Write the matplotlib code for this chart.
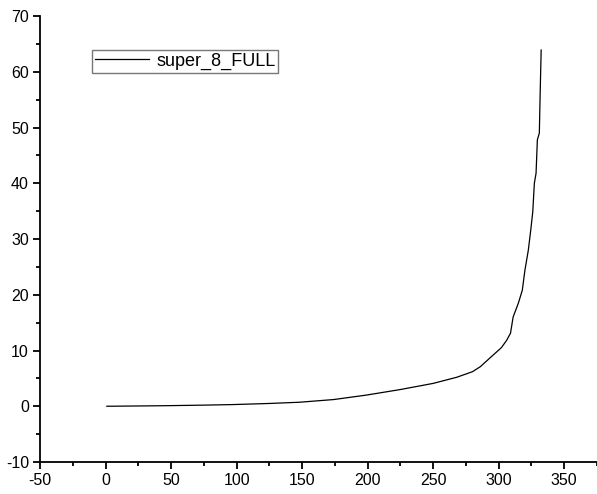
import matplotlib
matplotlib.use("Agg")
import matplotlib.pyplot as plt
from matplotlib.ticker import MultipleLocator

plt.rcParams['font.family'] = ['Liberation Sans', 'DejaVu Sans']
plt.rcParams['axes.unicode_minus'] = False

x_vals = [1, 25, 46, 75, 97, 125, 148, 174, 199, 225, 250, 268, 280, 286, 293,
          302, 306, 309, 311, 315, 318, 320, 322.6, 324.5, 326, 327.2, 328.5,
          329.5, 331, 331.6, 332.4]
y_vals = [0.0, 0.05, 0.1, 0.2, 0.3, 0.5, 0.72, 1.2, 2.0, 3.0, 4.1, 5.2, 6.2,
          7.1, 8.6, 10.5, 11.8, 13.1, 16.0, 18.5, 20.8, 24.4, 28.0, 31.7, 34.9,
          40.0, 41.8, 47.8, 49.0, 55.8, 63.9]
series_name = "super_8_FULL"

fig = plt.figure(figsize=(5.97, 4.94), dpi=100)
ax = fig.add_axes([40/597, 1-462/494, 1-40/597, (462-16)/494])
ax.plot(x_vals, y_vals, color='black', lw=0.9, label=series_name)

ax.set_xlim(-50, 375)
ax.set_ylim(-10, 70)
ax.xaxis.set_major_locator(MultipleLocator(50))
ax.xaxis.set_minor_locator(MultipleLocator(25))
ax.yaxis.set_major_locator(MultipleLocator(10))
ax.yaxis.set_minor_locator(MultipleLocator(5))
for s in ['top', 'right']:
    ax.spines[s].set_visible(False)
for s in ['left', 'bottom']:
    ax.spines[s].set_linewidth(1.3)
ax.tick_params(which='major', direction='out', length=5, width=1.3, labelsize=11.5, pad=3)
ax.tick_params(which='minor', direction='out', length=3, width=1.3)

leg = ax.legend(loc='upper left', bbox_to_anchor=((92-40)/557, (462-50)/446),
                frameon=True, fancybox=False, shadow=False, fontsize=13,
                handlelength=3.0, handletextpad=0.4, borderpad=0.15,
                borderaxespad=0)
leg.get_frame().set_edgecolor('#555555')
leg.get_frame().set_linewidth(1.0)

fig.savefig('out.png', dpi=100)
